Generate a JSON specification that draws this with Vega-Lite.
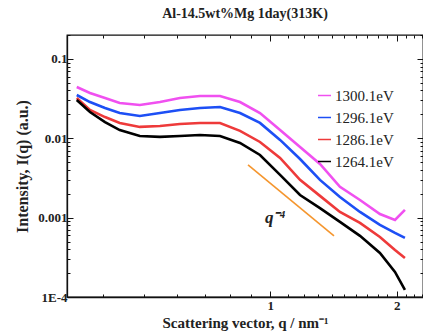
{
  "$schema": "https://vega.github.io/schema/vega-lite/v6.json",
  "width": 356,
  "height": 262,
  "autosize": {"type": "none"},
  "padding": {"left": 67, "top": 35, "right": 0, "bottom": 39},
  "background": "white",
  "config": {
    "view": {"stroke": "#111", "strokeWidth": 1.3},
    "font": "Liberation Serif"
  },
  "title": {
    "text": "Al-14.5wt%Mg 1day(313K)",
    "font": "Liberation Serif",
    "fontSize": 14,
    "fontWeight": "bold",
    "color": "#222",
    "anchor": "middle",
    "offset": 8
  },
  "resolve": {"axis": {"x": "independent", "y": "independent"}},
  "datasets": {
    "curves": [
      {"s": "1300.1eV", "q": 0.346, "I": 0.0443},
      {"s": "1300.1eV", "q": 0.372, "I": 0.0372},
      {"s": "1300.1eV", "q": 0.404, "I": 0.0322},
      {"s": "1300.1eV", "q": 0.438, "I": 0.0278},
      {"s": "1300.1eV", "q": 0.489, "I": 0.0262},
      {"s": "1300.1eV", "q": 0.546, "I": 0.0286},
      {"s": "1300.1eV", "q": 0.609, "I": 0.0322},
      {"s": "1300.1eV", "q": 0.680, "I": 0.0341},
      {"s": "1300.1eV", "q": 0.759, "I": 0.0341},
      {"s": "1300.1eV", "q": 0.847, "I": 0.0286},
      {"s": "1300.1eV", "q": 0.945, "I": 0.0208},
      {"s": "1300.1eV", "q": 1.055, "I": 0.0127},
      {"s": "1300.1eV", "q": 1.177, "I": 0.00776},
      {"s": "1300.1eV", "q": 1.313, "I": 0.00474},
      {"s": "1300.1eV", "q": 1.465, "I": 0.00244},
      {"s": "1300.1eV", "q": 1.635, "I": 0.00167},
      {"s": "1300.1eV", "q": 1.824, "I": 0.00111},
      {"s": "1300.1eV", "q": 1.981, "I": 0.000935},
      {"s": "1300.1eV", "q": 2.092, "I": 0.00125},
      {"s": "1296.1eV", "q": 0.346, "I": 0.0351},
      {"s": "1296.1eV", "q": 0.372, "I": 0.0286},
      {"s": "1296.1eV", "q": 0.404, "I": 0.0241},
      {"s": "1296.1eV", "q": 0.438, "I": 0.0208},
      {"s": "1296.1eV", "q": 0.489, "I": 0.0191},
      {"s": "1296.1eV", "q": 0.546, "I": 0.0208},
      {"s": "1296.1eV", "q": 0.609, "I": 0.0227},
      {"s": "1296.1eV", "q": 0.680, "I": 0.0241},
      {"s": "1296.1eV", "q": 0.759, "I": 0.0248},
      {"s": "1296.1eV", "q": 0.847, "I": 0.0208},
      {"s": "1296.1eV", "q": 0.945, "I": 0.0156},
      {"s": "1296.1eV", "q": 1.055, "I": 0.00953},
      {"s": "1296.1eV", "q": 1.177, "I": 0.00548},
      {"s": "1296.1eV", "q": 1.313, "I": 0.00299},
      {"s": "1296.1eV", "q": 1.465, "I": 0.00182},
      {"s": "1296.1eV", "q": 1.635, "I": 0.00118},
      {"s": "1296.1eV", "q": 1.824, "I": 0.000809},
      {"s": "1296.1eV", "q": 1.981, "I": 0.000641},
      {"s": "1296.1eV", "q": 2.092, "I": 0.000555},
      {"s": "1286.1eV", "q": 0.346, "I": 0.0322},
      {"s": "1286.1eV", "q": 0.372, "I": 0.0227},
      {"s": "1286.1eV", "q": 0.404, "I": 0.0185},
      {"s": "1286.1eV", "q": 0.438, "I": 0.0156},
      {"s": "1286.1eV", "q": 0.489, "I": 0.0139},
      {"s": "1286.1eV", "q": 0.546, "I": 0.0143},
      {"s": "1286.1eV", "q": 0.609, "I": 0.0151},
      {"s": "1286.1eV", "q": 0.680, "I": 0.0156},
      {"s": "1286.1eV", "q": 0.759, "I": 0.0156},
      {"s": "1286.1eV", "q": 0.847, "I": 0.0124},
      {"s": "1286.1eV", "q": 0.945, "I": 0.00898},
      {"s": "1286.1eV", "q": 1.055, "I": 0.00565},
      {"s": "1286.1eV", "q": 1.177, "I": 0.00299},
      {"s": "1286.1eV", "q": 1.313, "I": 0.00188},
      {"s": "1286.1eV", "q": 1.465, "I": 0.00118},
      {"s": "1286.1eV", "q": 1.635, "I": 0.000857},
      {"s": "1286.1eV", "q": 1.824, "I": 0.000571},
      {"s": "1286.1eV", "q": 1.981, "I": 0.000392},
      {"s": "1286.1eV", "q": 2.092, "I": 0.000310},
      {"s": "1264.1eV", "q": 0.346, "I": 0.0304},
      {"s": "1264.1eV", "q": 0.372, "I": 0.0214},
      {"s": "1264.1eV", "q": 0.404, "I": 0.0160},
      {"s": "1264.1eV", "q": 0.438, "I": 0.0127},
      {"s": "1264.1eV", "q": 0.489, "I": 0.0107},
      {"s": "1264.1eV", "q": 0.546, "I": 0.0104},
      {"s": "1264.1eV", "q": 0.609, "I": 0.0107},
      {"s": "1264.1eV", "q": 0.680, "I": 0.0110},
      {"s": "1264.1eV", "q": 0.759, "I": 0.0107},
      {"s": "1264.1eV", "q": 0.847, "I": 0.00873},
      {"s": "1264.1eV", "q": 0.945, "I": 0.00616},
      {"s": "1264.1eV", "q": 1.055, "I": 0.00345},
      {"s": "1264.1eV", "q": 1.177, "I": 0.00193},
      {"s": "1264.1eV", "q": 1.313, "I": 0.00132},
      {"s": "1264.1eV", "q": 1.465, "I": 0.000883},
      {"s": "1264.1eV", "q": 1.635, "I": 0.000589},
      {"s": "1264.1eV", "q": 1.824, "I": 0.000359},
      {"s": "1264.1eV", "q": 1.981, "I": 0.000207},
      {"s": "1264.1eV", "q": 2.092, "I": 0.000123}
    ],
    "guide": [
      {"q": 0.885, "I": 0.00461},
      {"q": 1.418, "I": 0.000589}
    ],
    "note": [
      {"q": 1.027, "I": 0.00099, "t": "q⁻⁴"}
    ]
  },
  "layer": [
    {
      "data": {"name": "curves"},
      "mark": {"type": "line", "strokeWidth": 2.6, "clip": true},
      "encoding": {
        "x": {
          "field": "q", "type": "quantitative",
          "scale": {"type": "log", "domain": [0.328, 2.31], "nice": false},
          "axis": {
            "title": "Scattering vector, q / nm⁻¹",
            "titleFont": "Liberation Serif", "titleFontSize": 15, "titleFontWeight": "bold", "titleColor": "#222",
            "titlePadding": 0,
            "values": [0.4, 0.5, 0.6, 0.7, 0.8, 0.9, 1, 1.1, 1.2, 1.3, 1.4, 1.5, 1.6, 1.7, 1.8, 1.9, 2, 2.1, 2.2, 2.3],
            "labelExpr": "(datum.value == 1 || datum.value == 2) ? format(datum.value, 'd') : ''",
            "labelFont": "Liberation Serif", "labelFontSize": 13, "labelFontWeight": "bold", "labelColor": "#222",
            "labelOverlap": false, "labelFlush": false, "labelPadding": 8,
            "tickSize": {"condition": {"test": "datum.value == 1 || datum.value == 2", "value": -6}, "value": -3},
            "tickColor": "#111", "tickWidth": 1,
            "domainColor": "#111", "domainWidth": 1.3,
            "grid": false
          }
        },
        "y": {
          "field": "I", "type": "quantitative",
          "scale": {"type": "log", "domain": [0.0001, 0.2], "nice": false},
          "axis": {
            "title": "Intensity, I(q) (a.u.)",
            "titleFont": "Liberation Serif", "titleFontSize": 16, "titleFontWeight": "bold", "titleColor": "#222",
            "titlePadding": 7,
            "values": [0.0001, 0.0002, 0.0003, 0.0004, 0.0005, 0.0006, 0.0007, 0.0008, 0.0009, 0.001, 0.002, 0.003, 0.004, 0.005, 0.006, 0.007, 0.008, 0.009, 0.01, 0.02, 0.03, 0.04, 0.05, 0.06, 0.07, 0.08, 0.09, 0.1, 0.2],
            "labelExpr": "datum.value == 0.1 ? '0.1' : datum.value == 0.01 ? '0.01' : datum.value == 0.001 ? '0.001' : datum.value == 0.0001 ? '1E-4' : ''",
            "labelFont": "Liberation Serif", "labelFontSize": 13, "labelFontWeight": "bold", "labelColor": "#222",
            "labelOverlap": false, "labelFlush": false, "labelPadding": 6,
            "tickSize": {"condition": {"test": "datum.value == 0.1 || datum.value == 0.01 || datum.value == 0.001 || datum.value == 0.0001", "value": -6}, "value": -3},
            "tickColor": "#111", "tickWidth": 1,
            "domainColor": "#111", "domainWidth": 1.3,
            "grid": false
          }
        },
        "color": {
          "field": "s", "type": "nominal",
          "scale": {
            "domain": ["1300.1eV", "1296.1eV", "1286.1eV", "1264.1eV"],
            "range": ["#f050f0", "#1d4ff5", "#ee3a3a", "#000000"]
          },
          "legend": {
            "orient": "none", "legendX": 250, "legendY": 53,
            "title": null,
            "symbolType": "stroke", "symbolSize": 170, "symbolStrokeWidth": 1.5,
            "labelFont": "Liberation Serif", "labelFontSize": 15, "labelColor": "#222",
            "labelOffset": 3, "rowPadding": 6, "padding": 0
          }
        }
      }
    },
    {
      "data": {"name": "guide"},
      "mark": {"type": "line", "color": "#f5962e", "strokeWidth": 1.6},
      "encoding": {
        "x": {"field": "q", "type": "quantitative", "axis": null},
        "y": {"field": "I", "type": "quantitative", "axis": null}
      }
    },
    {
      "data": {"name": "note"},
      "mark": {"type": "text", "font": "Liberation Serif", "fontSize": 17, "fontStyle": "italic", "fontWeight": "bold", "color": "#222"},
      "encoding": {
        "x": {"field": "q", "type": "quantitative", "axis": null},
        "y": {"field": "I", "type": "quantitative", "axis": null},
        "text": {"field": "t", "type": "nominal"}
      }
    },
    {
      "data": {"values": []},
      "mark": {"type": "point"},
      "encoding": {
        "x": {
          "field": "q", "type": "quantitative",
          "axis": {
            "orient": "top", "title": null, "labels": false, "domain": false, "grid": false,
            "values": [0.4, 0.5, 0.6, 0.7, 0.8, 0.9, 1, 1.1, 1.2, 1.3, 1.4, 1.5, 1.6, 1.7, 1.8, 1.9, 2, 2.1, 2.2, 2.3],
            "tickSize": {"condition": {"test": "datum.value == 1 || datum.value == 2", "value": -6}, "value": -3},
            "tickColor": "#111", "tickWidth": 1
          }
        },
        "y": {
          "field": "I", "type": "quantitative",
          "axis": {
            "orient": "right", "title": null, "labels": false, "domain": false, "grid": false,
            "values": [0.0001, 0.0002, 0.0003, 0.0004, 0.0005, 0.0006, 0.0007, 0.0008, 0.0009, 0.001, 0.002, 0.003, 0.004, 0.005, 0.006, 0.007, 0.008, 0.009, 0.01, 0.02, 0.03, 0.04, 0.05, 0.06, 0.07, 0.08, 0.09, 0.1, 0.2],
            "tickSize": {"condition": {"test": "datum.value == 0.1 || datum.value == 0.01 || datum.value == 0.001 || datum.value == 0.0001", "value": -6}, "value": -3},
            "tickColor": "#111", "tickWidth": 1
          }
        }
      }
    }
  ]
}
